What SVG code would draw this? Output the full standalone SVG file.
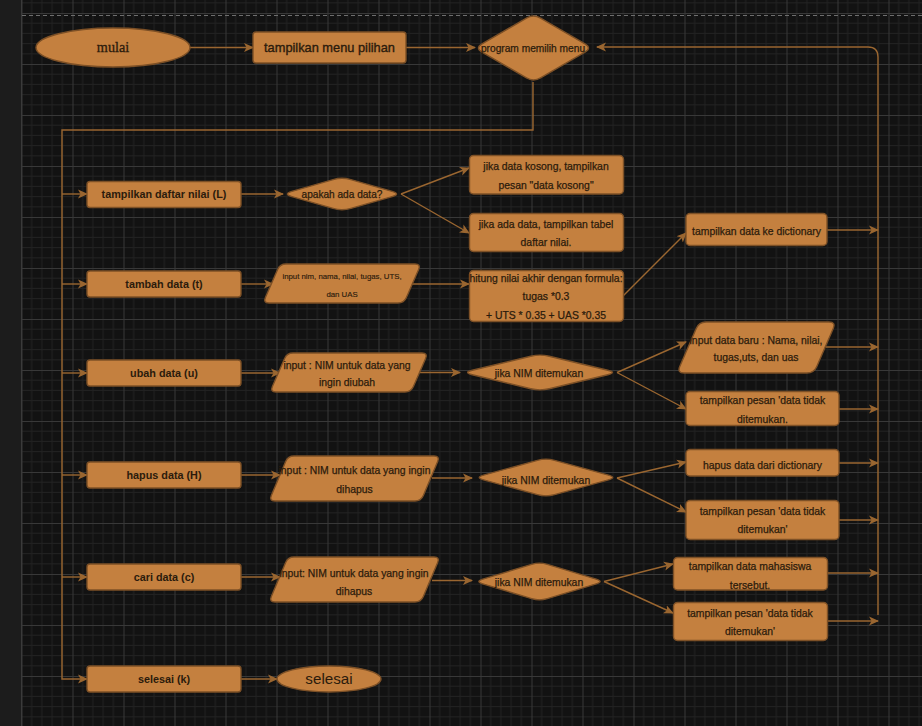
<svg xmlns="http://www.w3.org/2000/svg" width="922" height="726" viewBox="0 0 922 726">
<defs>
<pattern id="grid" x="21.5" y="13" width="51" height="51" patternUnits="userSpaceOnUse">
<path d="M10.2,0V51M20.4,0V51M30.6,0V51M40.8,0V51M0,10.2H51M0,20.4H51M0,30.6H51M0,40.8H51" stroke="#222222" stroke-width="1" fill="none"/>
<path d="M0.5,0V51M0,0.5H51" stroke="#383838" stroke-width="1" fill="none"/>
</pattern>
<marker id="arr" viewBox="0 0 10 10" refX="9" refY="5" markerWidth="10" markerHeight="10" markerUnits="userSpaceOnUse" orient="auto">
<path d="M0,0.5 L10,5 L0,9.5 L2.5,5 Z" fill="#9a6630"/>
</marker>
<style>
.n{fill:#c4803f;stroke:#7d5026;stroke-width:1.4}
.c{fill:none;stroke:#9a6630;stroke-width:1.4}
.a{marker-end:url(#arr)}
.t{font-family:"Liberation Sans",Arial,sans-serif;font-size:10.4px;fill:#2b1b0c;stroke:#2b1b0c;stroke-width:0.25;text-anchor:middle}
.tl{font-family:"Liberation Sans",Arial,sans-serif;font-size:10.8px;font-weight:bold;fill:#2b1b0c;text-anchor:middle}
.ts{font-size:7.8px;stroke-width:0.15}
</style>
</defs>
<rect x="0" y="0" width="922" height="726" fill="#121212"/>
<rect x="0" y="0" width="21.5" height="726" fill="#1c1c1c"/>
<rect x="21.5" y="0" width="900.5" height="726" fill="url(#grid)"/>
<line x1="21.5" y1="0" x2="21.5" y2="726" stroke="#3a3a3a" stroke-width="1"/>
<line x1="22" y1="15.5" x2="922" y2="15.5" stroke="#6e6e6e" stroke-width="1" stroke-dasharray="4 3"/>

<g id="connectors">
<path class="c a" d="M190,47.5H253"/>
<path class="c a" d="M406,47.5H475"/>
<path class="c a" d="M533,82V130H62V679H87"/>
<path class="c a" d="M62,194H87"/>
<path class="c a" d="M62,284H87"/>
<path class="c a" d="M62,373H87"/>
<path class="c a" d="M62,475H87"/>
<path class="c a" d="M62,577H87"/>
<path class="c a" d="M241,194H283"/>
<path class="c a" d="M401,194L469,168"/>
<path class="c a" d="M401,194L469,233"/>
<path class="c a" d="M241,284H273"/>
<path class="c a" d="M412,284H469"/>
<path class="c a" d="M623,296L686,233"/>
<path class="c a" d="M827,230H878"/>
<path class="c a" d="M241,373H280"/>
<path class="c a" d="M420,372.5H460"/>
<path class="c a" d="M617,372.5L686,342"/>
<path class="c a" d="M617,372.5L686,409"/>
<path class="c a" d="M826,347H878"/>
<path class="c a" d="M839,409H878"/>
<path class="c a" d="M241,475H280"/>
<path class="c a" d="M432,478H472"/>
<path class="c a" d="M617,478L686,462"/>
<path class="c a" d="M617,478L686,512"/>
<path class="c a" d="M839,463H878"/>
<path class="c a" d="M839,520H878"/>
<path class="c a" d="M241,577H280"/>
<path class="c a" d="M432,580.5H472"/>
<path class="c a" d="M604,581.5L673,564"/>
<path class="c a" d="M604,581.5L673,613"/>
<path class="c a" d="M827,573H878"/>
<path class="c a" d="M827,621H878"/>
<path class="c a" d="M878,615V57Q878,47 868,47H597"/>
<path class="c a" d="M241,679H277"/>
</g>

<g id="mulai"><ellipse class="n" cx="113" cy="47.5" rx="77" ry="19.5"/><text x="113" y="52" style="font-family:'Liberation Serif','Times New Roman',serif;font-size:14.2px;fill:#2b1b0c;stroke:#2b1b0c;stroke-width:0.3;text-anchor:middle">mulai</text></g>
<g id="menu"><rect class="n" x="253" y="32" width="153" height="31" rx="3"/><text class="t" x="329.5" y="51.8" style="font-size:12.8px;stroke-width:0.35">tampilkan menu pilihan</text></g>
<g id="pilih"><path class="n" d="M526.5,18.1Q533.5,14 540.5,18.1L585,43.9Q592,48 585,52.1L540.5,77.9Q533.5,82 526.5,77.9L482,52.1Q475,48 482,43.9Z"/><text class="t" x="533" y="51.5" style="font-size:10.2px">program memilih menu</text></g>

<g id="daftar"><rect class="n" x="87" y="181.5" width="154" height="26" rx="3"/><text class="tl" x="164" y="197.9">tampilkan daftar nilai (L)</text></g>
<g id="tambah"><rect class="n" x="87" y="271" width="154" height="26" rx="3"/><text class="tl" x="164" y="287.6">tambah data (t)</text></g>
<g id="ubah"><rect class="n" x="87" y="360" width="154" height="26" rx="3"/><text class="tl" x="164" y="376.6">ubah data (u)</text></g>
<g id="hapus"><rect class="n" x="87" y="462" width="154" height="26" rx="3"/><text class="tl" x="164" y="479">hapus data (H)</text></g>
<g id="cari"><rect class="n" x="87" y="564" width="154" height="26" rx="3"/><text class="tl" x="164" y="580.7">cari data (c)</text></g>
<g id="selesaik"><rect class="n" x="87" y="666" width="154" height="26" rx="3"/><text class="tl" x="164" y="682.7">selesai (k)</text></g>

<g id="apakah"><path class="n" d="M333.15,179.6Q342,177 350.85,179.6L392.15,191.4Q401,194 392.15,196.6L350.85,208.4Q342,211 333.15,208.4L291.85,196.6Q283,194 291.85,191.4Z"/><text class="t" x="342" y="197.7" style="font-size:10.1px">apakah ada data?</text></g>
<g id="kosong"><rect class="n" x="469.5" y="155.5" width="154" height="38.5" rx="4"/><text class="t" x="546" y="170.2">jika data kosong, tampilkan</text><text class="t" x="546" y="189.2">pesan "data kosong"</text></g>
<g id="tabel"><rect class="n" x="469.5" y="213.5" width="154" height="38" rx="4"/><text class="t" x="546" y="227.8">jika ada data, tampilkan tabel</text><text class="t" x="546" y="246.2">daftar nilai.</text></g>

<g id="inputtambah"><path class="n" d="M286,264L415,264Q421,264 418.6,269.5L406.4,297.5Q404,303 398,303L269,303Q263,303 265.4,297.5L277.6,269.5Q280,264 286,264Z"/><text class="t ts" x="342" y="279.3">input nim, nama, nilai, tugas, UTS,</text><text class="t ts" x="342" y="296.9">dan UAS</text></g>
<g id="hitung"><rect class="n" x="469.5" y="270.5" width="154" height="51" rx="4"/><text class="t" x="546" y="281.8">hitung nilai akhir dengan formula:</text><text class="t" x="546" y="300.2">tugas *0.3</text><text class="t" x="546" y="318.5">+ UTS * 0.35 + UAS *0.35</text></g>
<g id="dict"><rect class="n" x="686" y="213.5" width="141" height="32" rx="4"/><text class="t" x="756.5" y="234.5">tampilkan data ke dictionary</text></g>

<g id="inputubah"><path class="n" d="M293,353L422,353Q428,353 425.6,358.5L413.4,386.5Q411,392 405,392L276,392Q270,392 272.4,386.5L284.6,358.5Q287,353 293,353Z"/><text class="t" x="347" y="368.5">input : NIM untuk data yang</text><text class="t" x="347" y="386.2">ingin diubah</text></g>
<g id="nimubah"><path class="n" d="M530.76,356.22Q540,354 549.24,356.22L607.76,370.28Q617,372.5 607.76,374.72L549.24,388.78Q540,391 530.76,388.78L472.24,374.72Q463,372.5 472.24,370.28Z"/><text class="t" x="539" y="376.8">jika NIM ditemukan</text></g>
<g id="databaru"><path class="n" d="M706,322L829,322Q836,322 833.23,328.43L816.77,366.57Q814,373 807,373L684,373Q677,373 679.77,366.57L696.23,328.43Q699,322 706,322Z"/><text class="t" x="756" y="343.5">input data baru : Nama, nilai,</text><text class="t" x="756" y="361.2">tugas,uts, dan uas</text></g>
<g id="tidakubah"><rect class="n" x="686" y="391.5" width="153" height="34" rx="4"/><text class="t" x="762.5" y="404.2">tampilkan pesan 'data tidak</text><text class="t" x="762.5" y="422.5">ditemukan.</text></g>

<g id="inputhapus"><path class="n" d="M294,456L434,456Q440,456 437.67,461.53L423.33,495.47Q421,501 415,501L275,501Q269,501 271.33,495.47L285.67,461.53Q288,456 294,456Z"/><text class="t" x="354.5" y="474.2">input : NIM untuk data yang ingin</text><text class="t" x="354.5" y="492.5">dihapus</text></g>
<g id="nimhapus"><path class="n" d="M537.48,460.34Q546,458 554.52,460.34L608.48,475.16Q617,477.5 608.48,479.84L554.52,494.66Q546,497 537.48,494.66L483.52,479.84Q475,477.5 483.52,475.16Z"/><text class="t" x="546" y="483.5">jika NIM ditemukan</text></g>
<g id="hapusdict"><rect class="n" x="686" y="449.5" width="153" height="26.5" rx="4"/><text class="t" x="762.5" y="468.5">hapus data dari dictionary</text></g>
<g id="tidakhapus"><rect class="n" x="686" y="500.5" width="153" height="39" rx="4"/><text class="t" x="762.5" y="515.2">tampilkan pesan 'data tidak</text><text class="t" x="762.5" y="532.8">ditemukan'</text></g>

<g id="inputcari"><path class="n" d="M294,557L434,557Q440,557 437.67,562.53L423.33,596.47Q421,602 415,602L275,602Q269,602 271.33,596.47L285.67,562.53Q288,557 294,557Z"/><text class="t" x="354" y="576.8">input: NIM untuk data yang ingin</text><text class="t" x="354" y="594.5">dihapus</text></g>
<g id="nimcari"><path class="n" d="M531.76,564.34Q539.5,562 547.26,564.34L596.26,579.16Q604,581.5 596.26,583.84L547.26,598.66Q539.5,601 531.76,598.66L482.74,583.84Q475,581.5 482.74,579.16Z"/><text class="t" x="539" y="586.2">jika NIM ditemukan</text></g>
<g id="mahasiswa"><rect class="n" x="673.5" y="557.5" width="154" height="32.5" rx="4"/><text class="t" x="750" y="570.2">tampilkan data mahasiswa</text><text class="t" x="750" y="588.5">tersebut.</text></g>
<g id="tidakcari"><rect class="n" x="673.5" y="602.5" width="154" height="38" rx="4"/><text class="t" x="750" y="616.8">tampilkan pesan 'data tidak</text><text class="t" x="750" y="635.2">ditemukan'</text></g>

<g id="selesai"><ellipse class="n" cx="329" cy="679" rx="52" ry="13"/><text x="329" y="684.3" style="font-family:'Liberation Sans',Arial,sans-serif;font-size:15.2px;fill:#2b1b0c;text-anchor:middle">selesai</text></g>
</svg>
